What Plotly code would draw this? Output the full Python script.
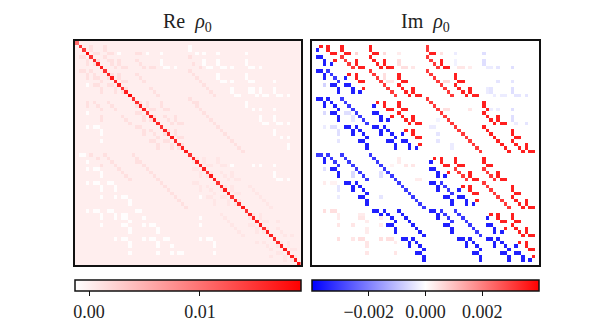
import plotly.graph_objects as go

N = 64

# colour ranges and tick labels
re_range = [-0.0013, 0.0191]
im_range = [-0.004, 0.004]
re_ticks = [0.0, 0.01]
re_ticklabels = ["0.00", "0.01"]
im_ticks = [-0.002, 0.0, 0.002]
im_ticklabels = ["\u22120.002", "0.000", "0.002"]

# Re part: diagonal, flat background, and off diagonal cells {row: [cols]} (upper triangle)
re_diag = [0.0105, 0.0150, 0.0145, 0.0185, 0.0150, 0.0160, 0.0165, 0.0170,
           0.0150, 0.0160, 0.0170, 0.0160, 0.0165, 0.0150, 0.0165, 0.0185,
           0.0150, 0.0155, 0.0165, 0.0165, 0.0150, 0.0170, 0.0165, 0.0160,
           0.0150, 0.0165, 0.0155, 0.0170, 0.0160, 0.0150, 0.0165, 0.0170,
           0.0150, 0.0160, 0.0165, 0.0160, 0.0165, 0.0150, 0.0170, 0.0165,
           0.0150, 0.0160, 0.0170, 0.0165, 0.0150, 0.0165, 0.0160, 0.0170,
           0.0150, 0.0165, 0.0160, 0.0165, 0.0170, 0.0150, 0.0165, 0.0165,
           0.0155, 0.0160, 0.0165, 0.0175, 0.0160, 0.0165, 0.0170, 0.0185]
re_background = 0.0001
re_white_value = -0.0011
re_pink_value = 0.0012
re_pale_value = 0.0007
re_white = {1: [32], 2: [32], 3: [12, 20, 24, 34, 36, 40, 48], 5: [24, 36, 40, 48],
            6: [24, 36, 40, 48], 7: [25, 26, 28, 37, 38, 41, 42, 44, 49, 50, 52],
            9: [40, 48], 10: [40, 48], 11: [41, 42, 44, 49, 50, 56],
            13: [44, 49, 50, 52, 56], 14: [44, 49, 50, 52, 56],
            15: [45, 46, 51, 53, 54, 57, 58, 60], 17: [48], 18: [48], 19: [50, 52, 56],
            21: [52, 56], 22: [52, 56], 23: [53, 54, 57, 58, 60], 25: [56], 26: [56],
            27: [58, 60], 29: [60], 30: [60], 35: [44, 50, 52, 56], 37: [56], 38: [56],
            39: [57, 58, 60]}
re_pink = {1: [4, 8], 2: [4, 8], 3: [5, 6, 9, 10, 17, 18], 4: [8, 32], 5: [6, 9, 10, 12, 17],
           6: [10, 12, 18, 33], 7: [11, 13, 14, 19, 21, 22, 35], 8: [32], 9: [10, 12, 17, 33],
           10: [12, 18, 34], 11: [13, 14, 19, 35], 12: [36], 13: [14, 21, 37], 14: [22, 38],
           15: [23, 39], 16: [32], 17: [18, 20, 24, 33, 34], 18: [20, 24, 34],
           19: [21, 22, 25, 26, 35], 20: [36], 21: [22, 25, 28, 37], 22: [26, 28, 38],
           23: [27, 29, 30, 39], 24: [40], 25: [26, 28, 41], 26: [28, 42], 27: [29, 30, 43],
           28: [44], 29: [30, 45], 30: [46], 31: [47]}
re_pale = {33: [34, 36, 40], 34: [36, 40], 35: [37, 38, 41, 42], 37: [38, 41, 44], 38: [42, 44],
           39: [43, 45, 46], 41: [42, 44, 49], 42: [44, 50], 43: [45, 46, 51], 44: [52],
           45: [46, 53], 46: [54], 47: [55], 49: [50, 52], 50: [52], 51: [53, 54, 57],
           53: [54, 57], 54: [58], 55: [59, 61], 57: [58, 60], 58: [60], 59: [61, 62], 61: [62]}

# Im part, upper triangle {row: [cols]}
im_strong_value = 0.0035
im_medium_value = 0.0031
im_strong = {1: [2, 4, 8, 16, 32], 2: [4, 8, 16, 32], 4: [8, 16, 32], 8: [16, 32], 16: [32],
             3: [5, 9, 17, 33, 6, 10, 18, 34], 5: [6, 9, 12, 17, 20, 33, 36],
             6: [10, 12, 18, 20, 34, 36], 9: [10, 12, 17, 24, 33, 40], 10: [12, 18, 24, 34, 40],
             12: [20, 24, 36, 40], 17: [18, 20, 24, 33, 48], 18: [20, 24, 34, 48],
             20: [24, 36, 48], 24: [40, 48], 33: [34, 36, 40, 48], 34: [36, 40, 48],
             36: [40, 48], 40: [48],
             7: [11, 13, 14, 19, 21, 22, 35, 37, 38], 11: [13, 14, 19, 25, 26, 35, 41, 42],
             13: [14, 21, 25, 28, 37, 41, 44], 14: [22, 26, 28, 38, 42, 44],
             19: [21, 22, 25, 26, 35, 49, 50], 21: [22, 25, 28, 37, 49, 52],
             22: [26, 28, 38, 50, 52], 25: [26, 28, 41, 49, 56], 26: [28, 42, 50, 56],
             28: [44, 52, 56], 35: [37, 38, 41, 42, 49, 50], 37: [38, 41, 44, 49, 52],
             38: [42, 44, 50, 52], 41: [42, 44, 49, 56], 42: [44, 50, 56], 44: [52, 56],
             49: [50, 52, 56], 50: [52, 56], 52: [56],
             15: [23, 27, 29, 30, 39, 43, 45, 46], 23: [27, 29, 30, 39, 51, 53, 54],
             27: [29, 30, 43, 51, 57, 58], 29: [30, 45, 53, 57, 60], 30: [46, 54, 58, 60],
             39: [43, 45, 46, 51, 53, 54], 43: [45, 46, 51, 57, 58], 45: [46, 53, 57, 60],
             46: [54, 58, 60], 51: [53, 54, 57, 58], 53: [54, 57, 60], 54: [58, 60],
             57: [58, 60], 58: [60],
             31: [47, 55, 59, 61, 62], 47: [55, 59, 61, 62], 55: [59, 61, 62], 59: [61, 62],
             61: [62]}
im_medium = {1: [32], 2: [32], 4: [8, 32], 5: [9, 33], 6: [10, 34], 7: [11, 35], 8: [16, 32],
             9: [17, 33], 10: [18, 34], 11: [19, 35], 12: [20, 36], 13: [21, 37], 14: [22, 38],
             15: [23, 39], 16: [32], 17: [33], 18: [34], 19: [35], 20: [36], 21: [37], 22: [38],
             23: [39], 24: [40], 25: [41], 26: [42], 27: [43], 28: [44], 29: [45], 30: [46],
             31: [47], 36: [40, 48], 37: [41, 49], 38: [42, 50], 39: [43, 51], 40: [48],
             41: [49], 42: [50], 43: [51], 44: [52], 45: [53], 46: [54], 47: [55]}
# faint cells, one row/col/value triple each
im_faint_row = [3, 3, 3, 5, 6, 7, 7, 7, 9, 10, 11, 11, 3, 3, 3, 5, 6, 5, 6, 7, 7, 7, 7, 7, 7, 7,
                11, 11, 11, 11, 13, 14, 13, 14, 15, 15, 15, 15, 15, 15, 19, 19, 19, 19, 19, 19,
                21, 22, 23, 23, 24, 24, 22, 26, 28, 29, 30, 13, 14]
im_faint_col = [12, 20, 24, 24, 24, 25, 26, 28, 20, 20, 21, 22, 36, 40, 48, 40, 40, 48, 48, 41, 42,
                44, 49, 50, 52, 56, 37, 38, 52, 56, 49, 49, 56, 56, 51, 53, 54, 57, 58, 60, 37, 38,
                44, 56, 52, 50, 56, 56, 57, 60, 33, 34, 35, 35, 35, 39, 39, 50, 50]
im_faint_val = [0.0007, 0.0006, 0.0003, 0.0005, 0.0005, 0.0005, 0.0005, 0.0004, 0.0005, 0.0005,
                0.0004, 0.0004, 0.0005, -0.0003, -0.0005, -0.0002, -0.0002, -0.0005, -0.0005,
                0.0004, 0.0004, 0.0003, -0.0003, -0.0003, -0.0004, -0.0005, 0.0006, 0.0006,
                -0.0004, -0.0004, -0.0003, -0.0003, -0.0005, -0.0005, -0.0003, -0.0003, -0.0003,
                -0.0004, -0.0004, -0.0004, 0.0005, 0.0005, 0.0004, -0.0005, -0.0003, -0.0003,
                -0.0005, -0.0005, -0.0003, -0.0004, -0.0003, -0.0003, -0.0002, -0.0004, -0.0004,
                -0.0003, -0.0003, -0.0004, -0.0004]

re_z = [[re_background] * N for _ in range(N)]
im_z = [[0.0] * N for _ in range(N)]

for cells, value in [(re_white, re_white_value), (re_pink, re_pink_value), (re_pale, re_pale_value)]:
    for row, cols in cells.items():
        for col in cols:
            re_z[row][col] = value
            re_z[col][row] = value
for i in range(N):
    re_z[i][i] = re_diag[i]

for cells, value in [(im_strong, im_strong_value), (im_medium, im_medium_value)]:
    for row, cols in cells.items():
        for col in cols:
            im_z[row][col] = value
            im_z[col][row] = -value
for row, col, value in zip(im_faint_row, im_faint_col, im_faint_val):
    im_z[row][col] = value
    im_z[col][row] = -value

W = 598
H = 327
FONT = "Liberation Serif"

fig = go.Figure()
fig.add_trace(go.Heatmap(
    z=re_z, zmin=re_range[0], zmax=re_range[1], xaxis="x", yaxis="y",
    colorscale=[[0, "#ffffff"], [1, "#ff0000"]], hoverinfo="skip",
    colorbar=dict(orientation="h", x=187.7 / W, xanchor="center", y=1 - 280 / H, yanchor="top",
                  lenmode="pixels", len=226, thicknessmode="pixels", thickness=11,
                  xpad=0, ypad=0, outlinecolor="#111111", outlinewidth=1.5,
                  tickvals=re_ticks, ticktext=re_ticklabels, ticks="outside", ticklen=5,
                  tickwidth=1, tickcolor="#111111",
                  tickfont=dict(family=FONT, size=18, color="#222222")),
))
fig.add_trace(go.Heatmap(
    z=im_z, zmin=im_range[0], zmax=im_range[1], xaxis="x2", yaxis="y2",
    colorscale=[[0, "#0000ff"], [0.5, "#ffffff"], [1, "#ff0000"]], hoverinfo="skip",
    colorbar=dict(orientation="h", x=425.5 / W, xanchor="center", y=1 - 280 / H, yanchor="top",
                  lenmode="pixels", len=227, thicknessmode="pixels", thickness=11,
                  xpad=0, ypad=0, outlinecolor="#111111", outlinewidth=1.5,
                  tickvals=im_ticks, ticktext=im_ticklabels, ticks="outside", ticklen=5,
                  tickwidth=1, tickcolor="#111111",
                  tickfont=dict(family=FONT, size=18, color="#222222")),
))

axis_style = dict(showticklabels=False, ticks="", showgrid=False, zeroline=False, showline=True,
                  mirror=True, linecolor="#111111", linewidth=1.5)
y_domain = [1 - 265 / H, 1 - 41 / H]
fig.update_layout(
    width=W, height=H, autosize=False, margin=dict(l=0, r=0, t=0, b=0),
    paper_bgcolor="white", plot_bgcolor="white",
    xaxis=dict(domain=[75 / W, 300.5 / W], range=[-0.5, 63.5], **axis_style),
    yaxis=dict(domain=y_domain, range=[63.5, -0.5], **axis_style),
    xaxis2=dict(domain=[312 / W, 539 / W], range=[-0.5, 63.5], **axis_style),
    yaxis2=dict(domain=y_domain, range=[63.5, -0.5], anchor="x2", **axis_style),
    annotations=[
        dict(text="Re  <i>\u03c1</i><sub>0</sub>", x=187.7 / W, y=1 - 37 / H, xref="paper", yref="paper",
             xanchor="center", yanchor="bottom", showarrow=False,
             font=dict(family=FONT, size=20, color="#222222")),
        dict(text="Im  <i>\u03c1</i><sub>0</sub>", x=425.5 / W, y=1 - 37 / H, xref="paper", yref="paper",
             xanchor="center", yanchor="bottom", showarrow=False,
             font=dict(family=FONT, size=20, color="#222222")),
    ],
)

fig.write_html("out.html", post_script="document.body.style.margin='0';",
               config={"displayModeBar": False})
